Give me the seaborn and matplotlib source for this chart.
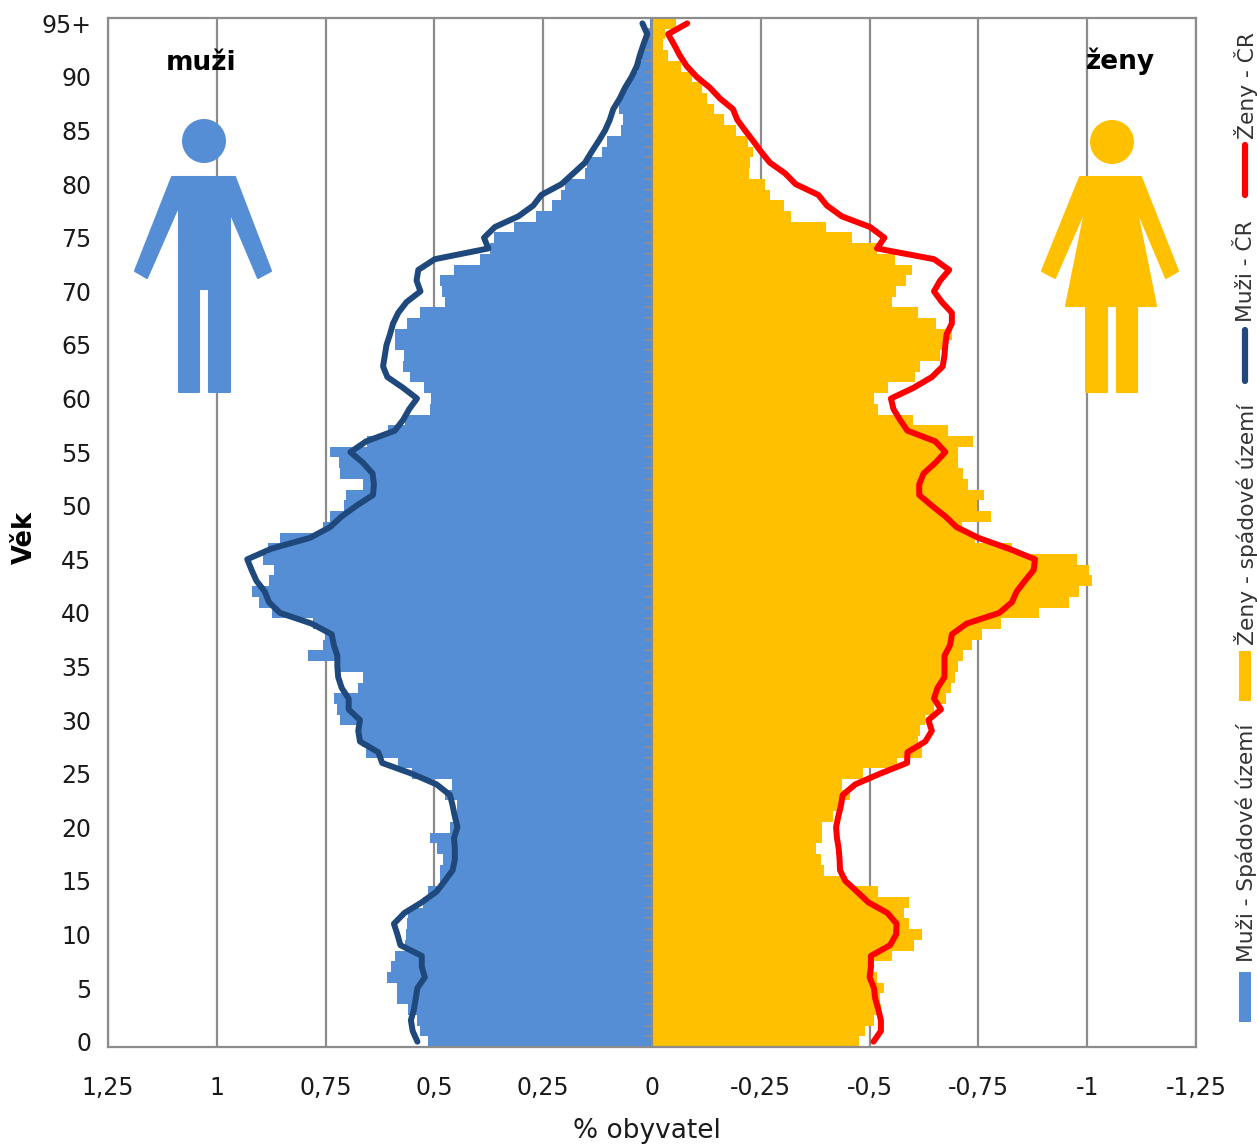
import numpy as np
import pandas as pd
import matplotlib
matplotlib.use('Agg')
import matplotlib.pyplot as plt
from matplotlib.patches import Polygon, Circle, Rectangle
from matplotlib.lines import Line2D
import seaborn as sns

# age rows 0 .. 95+
ages = list(range(96))

men_area = [.514, .533, .541, .560, .585, .587, .608, .599, .591, .568, .566, .564, .560, .527, .514, .487,
            .486, .480, .494, .510, .464, .453, .449, .476, .460, .552, .583, .658, .667, .676, .717, .723,
            .731, .675, .664, .721, .790, .756, .752, .779, .873, .903, .918, .880, .868, .894, .882, .855,
            .756, .740, .708, .702, .664, .717, .720, .740, .656, .606, .568, .510, .508, .523, .555, .573,
            .570, .591, .591, .564, .532, .476, .483, .487, .455, .395, .372, .363, .317, .267, .230, .209,
            .200, .154, .149, .115, .103, .071, .067, .076, .074, .062, .046, .032, .023, .016, .009, .005]

men_cr = [.539, .550, .554, .547, .543, .539, .522, .529, .529, .578, .585, .593, .569, .529, .495, .476,
          .458, .453, .453, .455, .447, .453, .458, .464, .495, .552, .620, .629, .671, .675, .671, .697,
          .697, .713, .721, .723, .723, .731, .736, .782, .855, .880, .890, .909, .920, .930, .874, .786,
          .740, .713, .679, .641, .639, .642, .664, .693, .657, .591, .572, .558, .540, .572, .608, .618,
          .614, .610, .602, .595, .583, .564, .532, .541, .537, .499, .376, .386, .361, .307, .273, .254,
          .208, .181, .154, .139, .123, .108, .097, .089, .074, .062, .047, .035, .028, .020, .011, .022]

women_area = [.476, .490, .509, .526, .523, .534, .517, .509, .552, .603, .620, .591, .579, .591, .520, .448,
              .396, .388, .376, .390, .390, .417, .440, .455, .437, .484, .564, .620, .612, .616, .628, .647,
              .676, .687, .697, .702, .714, .735, .758, .802, .890, .959, .982, 1.012, 1.005, .976, .827, .743,
              .712, .779, .746, .764, .726, .714, .702, .702, .737, .681, .599, .520, .511, .543, .605, .616,
              .662, .670, .689, .652, .611, .552, .561, .584, .597, .559, .517, .460, .399, .320, .304, .271,
              .260, .223, .225, .231, .221, .193, .166, .143, .127, .114, .093, .067, .037, .026, .030, .054]

women_cr = [.509, .526, .526, .520, .513, .510, .500, .503, .503, .547, .561, .562, .541, .497, .471, .444,
            .432, .431, .429, .425, .423, .428, .434, .438, .467, .524, .586, .587, .628, .643, .635, .664,
            .648, .656, .672, .672, .672, .685, .689, .723, .798, .827, .838, .857, .877, .880, .819, .750,
            .700, .674, .643, .614, .614, .624, .651, .674, .651, .587, .570, .555, .549, .601, .643, .668,
            .672, .674, .677, .689, .689, .666, .648, .662, .683, .648, .517, .534, .501, .436, .402, .382,
            .330, .306, .271, .251, .233, .214, .196, .186, .156, .133, .103, .080, .064, .051, .037, .081]

x_ticks = [1.25, 1, .75, .5, .25, 0, -.25, -.5, -.75, -1, -1.25]
x_labels = ['1,25', '1', '0,75', '0,5', '0,25', '0', '-0,25', '-0,5', '-0,75', '-1', '-1,25']
y_ticks = list(range(0, 96, 5))
y_labels = [str(a) for a in y_ticks[:-1]] + ['95+']

BLUE = '#558ED5'
YELLOW = '#FFC000'
NAVY = '#1F497D'
RED = '#FF0000'
GRAY = '#8C8C8C'
W, H = 1257, 1144

sns.set_theme(style='white')
plt.rcParams['font.family'] = ['DejaVu Sans']

df = pd.DataFrame({'age': ages, 'men': men_area, 'women': -np.array(women_area),
                   'men_cr': men_cr, 'women_cr': -np.array(women_cr)})

fig = plt.figure(figsize=(W / 100, H / 100), dpi=100)
ax = fig.add_axes([108 / W, 1 - 1047 / H, (1196 - 108) / W, (1047 - 18) / H])

sns.barplot(data=df, x='men', y='age', orient='y', native_scale=True, width=1, color=BLUE,
            saturation=1, linewidth=0, ax=ax, zorder=2)
sns.barplot(data=df, x='women', y='age', orient='y', native_scale=True, width=1, color=YELLOW,
            saturation=1, linewidth=0, ax=ax, zorder=2)
sns.lineplot(data=df, x='men_cr', y='age', orient='y', sort=False, estimator=None, color=NAVY,
             linewidth=4.3, solid_capstyle='round', solid_joinstyle='round', ax=ax, zorder=4)
sns.lineplot(data=df, x='women_cr', y='age', orient='y', sort=False, estimator=None, color=RED,
             linewidth=4.3, solid_capstyle='round', solid_joinstyle='round', ax=ax, zorder=4)

ax.set_xlim(1.25, -1.25)
ax.set_ylim(-0.5, 95.5)
ax.set_xticks(x_ticks)
ax.set_xticklabels(x_labels, fontsize=17, color='#1a1a1a')
ax.set_yticks(y_ticks)
ax.set_yticklabels(y_labels, fontsize=17, color='#1a1a1a')
ax.tick_params(axis='x', length=0, pad=21)
ax.tick_params(axis='y', length=0, pad=12)
ax.grid(axis='x', color=GRAY, linewidth=1.6, zorder=1)
ax.set_axisbelow(True)
for s in ax.spines.values():
    s.set_color(GRAY)
    s.set_linewidth(1.6)

# centre axis with its small ticks, sits over the bars
ax.axvline(0, color=GRAY, linewidth=1.6, zorder=3)
ax.hlines(np.arange(-0.5, 96), 0, 0.016, color=GRAY, linewidth=1.4, zorder=3)

ax.set_xlabel('% obyvatel', fontsize=19, color='#1a1a1a', labelpad=13, x=0.495)
ax.set_ylabel('')


def px(x, y):
    return (x / W, 1 - y / H)


def figure_poly(points, color):
    fig.add_artist(Polygon([px(*p) for p in points], closed=True, facecolor=color, edgecolor=color,
                           linewidth=1.5, joinstyle='round', transform=fig.transFigure))


def figure_head(x, y, r, color):
    head = Circle((x, H - y), r, facecolor=color, edgecolor='none', transform=None)
    fig.add_artist(head)


# man icon
figure_head(204, 141, 22, BLUE)
figure_poly([(172, 177), (235, 177), (271, 271), (258, 278), (230, 212), (230, 392), (209, 392),
             (209, 289), (199, 289), (199, 392), (179, 392), (179, 205), (147, 278), (135, 271)], BLUE)

# woman icon
figure_head(1112, 142, 22, YELLOW)
figure_poly([(1080, 177), (1141, 177), (1178, 271), (1166, 278), (1136, 207), (1156, 306), (1137, 306),
             (1137, 392), (1117, 392), (1117, 306), (1107, 306), (1107, 392), (1086, 392), (1086, 306),
             (1066, 306), (1086, 207), (1055, 278), (1042, 271)], YELLOW)

fig.text(*px(201, 63), 'muži', fontsize=19, fontweight='bold', color='black', ha='center', va='center')
fig.text(*px(1120, 61), 'ženy', fontsize=19, fontweight='bold', color='black', ha='center', va='center')
fig.text(*px(25, 537), 'Věk', fontsize=18.5, fontweight='bold', color='black', rotation=90,
         ha='center', va='center')

# legend, turned on its side along the right edge
fig.add_artist(Rectangle(px(1239, 1022), 12 / W, 50 / H, facecolor=BLUE, edgecolor='none',
                         transform=fig.transFigure))
fig.add_artist(Rectangle(px(1239, 701), 12 / W, 50 / H, facecolor=YELLOW, edgecolor='none',
                         transform=fig.transFigure))
fig.add_artist(Line2D([1245 / W, 1245 / W], [1 - 381 / H, 1 - 330 / H], color=NAVY, linewidth=4.5,
                      solid_capstyle='round', transform=fig.transFigure))
fig.add_artist(Line2D([1245 / W, 1245 / W], [1 - 195 / H, 1 - 145 / H], color=RED, linewidth=4.5,
                      solid_capstyle='round', transform=fig.transFigure))
legend_items = [(962, 'Muži - Spádové území'), (645, 'Ženy - spádové území'), (322, 'Muži - ČR'), (139, 'Ženy - ČR')]
for y, label in legend_items:
    fig.text(*px(1246, y), label, fontsize=15.7, color='#333333', rotation=90, ha='center', va='bottom')

fig.savefig('out.png', dpi=100)
